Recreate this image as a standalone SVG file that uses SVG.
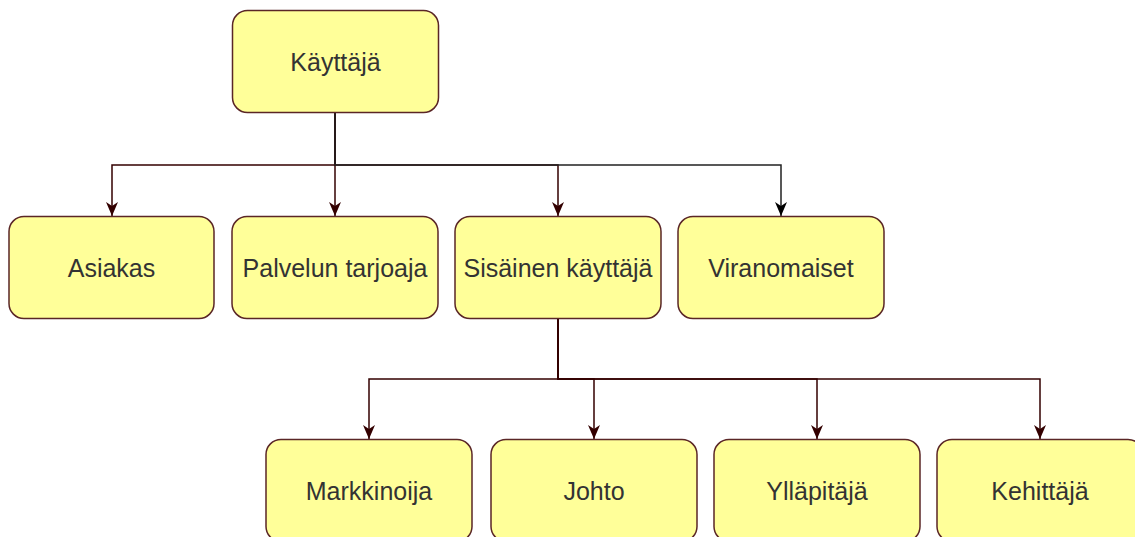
<svg xmlns="http://www.w3.org/2000/svg" width="1135" height="537" viewBox="0 0 1135 537">
  <style>
    .box { fill: #ffff99; stroke: #5a2626; stroke-width: 1.5; }
    .label { font-family: "Liberation Sans", Arial, sans-serif; font-size: 25px; fill: #333333; text-anchor: middle; }
    .edge { fill: none; stroke: #330000; stroke-width: 1.5; }
    .edge-dark { fill: none; stroke: #222222; stroke-width: 1.5; }
  </style>
  <defs>
    <marker id="arrow-brown" viewBox="0 0 14 12" refX="14" refY="6" markerWidth="14" markerHeight="12" markerUnits="userSpaceOnUse" orient="auto">
      <path d="M0,0 L14,6 L0,12 L4,6 Z" fill="#330000"/>
    </marker>
    <marker id="arrow-black" viewBox="0 0 14 12" refX="14" refY="6" markerWidth="14" markerHeight="12" markerUnits="userSpaceOnUse" orient="auto">
      <path d="M0,0 L14,6 L0,12 L4,6 Z" fill="#000000"/>
    </marker>
  </defs>
  <rect width="1135" height="537" fill="#ffffff"/>

  <!-- connectors -->
  <g id="connectors">
    <path class="edge" d="M335,113 V165 H112 V216" marker-end="url(#arrow-brown)"/>
    <path class="edge" d="M335,113 V216" marker-end="url(#arrow-brown)"/>
    <path class="edge" d="M335,113 V165 H558 V216" marker-end="url(#arrow-brown)"/>
    <path class="edge-dark" d="M335,113 V165 H781 V216" marker-end="url(#arrow-black)"/>
    <path class="edge" d="M558,319 V379 H369 V439" marker-end="url(#arrow-brown)"/>
    <path class="edge" d="M558,319 V379 H594 V439" marker-end="url(#arrow-brown)"/>
    <path class="edge" d="M558,319 V379 H817 V439" marker-end="url(#arrow-brown)"/>
    <path class="edge" d="M558,319 V379 H1040 V439" marker-end="url(#arrow-brown)"/>
  </g>

  <!-- nodes -->
  <g id="kayttaja">
    <rect class="box" x="232.5" y="10.5" width="206" height="102" rx="15"/>
    <text class="label" x="335.5" y="71">Käyttäjä</text>
  </g>
  <g id="asiakas">
    <rect class="box" x="9" y="216.5" width="205" height="102" rx="15"/>
    <text class="label" x="111.5" y="277">Asiakas</text>
  </g>
  <g id="palvelun-tarjoaja">
    <rect class="box" x="232" y="216.5" width="206" height="102" rx="15"/>
    <text class="label" x="335" y="277">Palvelun tarjoaja</text>
  </g>
  <g id="sisainen-kayttaja">
    <rect class="box" x="455" y="216.5" width="206" height="102" rx="15"/>
    <text class="label" x="558" y="277">Sisäinen käyttäjä</text>
  </g>
  <g id="viranomaiset">
    <rect class="box" x="678" y="216.5" width="206" height="102" rx="15"/>
    <text class="label" x="781" y="277">Viranomaiset</text>
  </g>
  <g id="markkinoija">
    <rect class="box" x="266" y="439.5" width="206" height="102" rx="15"/>
    <text class="label" x="369" y="499.5">Markkinoija</text>
  </g>
  <g id="johto">
    <rect class="box" x="491" y="439.5" width="206" height="102" rx="15"/>
    <text class="label" x="594" y="499.5">Johto</text>
  </g>
  <g id="yllapitaja">
    <rect class="box" x="714" y="439.5" width="206" height="102" rx="15"/>
    <text class="label" x="817" y="499.5">Ylläpitäjä</text>
  </g>
  <g id="kehittaja">
    <rect class="box" x="937" y="439.5" width="206" height="102" rx="15"/>
    <text class="label" x="1040" y="499.5">Kehittäjä</text>
  </g>
</svg>
